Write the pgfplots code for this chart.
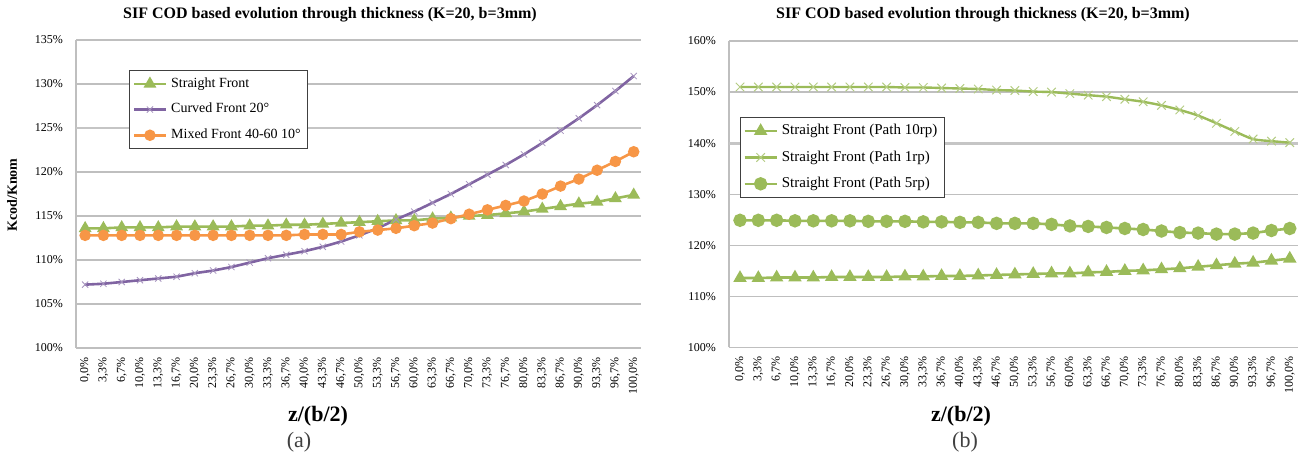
\documentclass[border=0pt]{standalone}
\usepackage{pgfplots}
\pgfplotsset{compat=1.18}
\usepackage{pgfplotstable}
\usepackage{fontspec}
\setmainfont{Liberation Serif}
\definecolor{xlgreen}{HTML}{9BBB59}
\definecolor{xlpurple}{HTML}{8064A2}
\definecolor{xlorange}{HTML}{F79646}
\definecolor{gridgray}{HTML}{BFBFBF}
\definecolor{legborder}{HTML}{404040}

\pgfplotstableread{
idx sf    cf    mf    p1    p5
0   113.6 107.2 112.8 151.0 124.9
1   113.6 107.3 112.8 151.0 124.9
2   113.7 107.5 112.8 151.0 124.9
3   113.7 107.7 112.8 151.0 124.8
4   113.7 107.9 112.8 151.0 124.8
5   113.8 108.1 112.8 151.0 124.8
6   113.8 108.5 112.8 151.0 124.8
7   113.8 108.8 112.8 151.0 124.7
8   113.8 109.2 112.8 151.0 124.7
9   113.9 109.7 112.8 150.9 124.7
10  113.9 110.2 112.8 150.9 124.6
11  114.0 110.6 112.8 150.8 124.6
12  114.0 111.0 112.9 150.7 124.5
13  114.1 111.5 112.9 150.6 124.5
14  114.2 112.1 112.9 150.4 124.3
15  114.3 112.8 113.2 150.3 124.3
16  114.4 113.6 113.4 150.1 124.3
17  114.5 114.6 113.6 150.0 124.1
18  114.5 115.5 113.9 149.7 123.8
19  114.7 116.5 114.2 149.4 123.7
20  114.8 117.5 114.7 149.1 123.5
21  115.0 118.6 115.2 148.6 123.3
22  115.1 119.7 115.7 148.1 123.1
23  115.3 120.8 116.2 147.4 122.8
24  115.5 122.0 116.7 146.5 122.5
25  115.8 123.3 117.5 145.4 122.4
26  116.1 124.7 118.4 143.9 122.2
27  116.4 126.1 119.2 142.3 122.2
28  116.6 127.6 120.2 140.8 122.4
29  117.0 129.2 121.2 140.4 122.9
30  117.4 130.9 122.3 140.1 123.3
}\datatable

\pgfplotsset{
  xlbase/.style={
    scale only axis,
    anchor=south west,
    xmin=-0.5, xmax=30.4,
    xtick={0,...,30},
    xticklabels={{0,0\%},{3,3\%},{6,7\%},{10,0\%},{13,3\%},{16,7\%},{20,0\%},{23,3\%},{26,7\%},{30,0\%},{33,3\%},{36,7\%},{40,0\%},{43,3\%},{46,7\%},{50,0\%},{53,3\%},{56,7\%},{60,0\%},{63,3\%},{66,7\%},{70,0\%},{73,3\%},{76,7\%},{80,0\%},{83,3\%},{86,7\%},{90,0\%},{93,3\%},{96,7\%},{100,0\%}},
    xticklabel style={rotate=90, anchor=east, font=\fontsize{6}{7}\selectfont, xshift=-1pt},
    yticklabel style={font=\fontsize{6}{7}\selectfont, xshift=-3pt},
    major tick length=0pt,
    axis x line*=bottom,
    axis y line*=left,
    axis line style={gridgray, line width=0.8pt},
    ymajorgrids,
    grid style={gridgray, line width=0.7pt},
    legend cell align=left,
    legend style={draw=legborder, line width=0.6pt, fill=white,
      font=\fontsize{7}{8}\selectfont, inner sep=1.5pt, row sep=2.5pt,
      legend image code/.code={%
        \draw[mark repeat=2,mark phase=2,##1] plot coordinates {(0cm,0cm) (0.28cm,0cm) (0.56cm,0cm)};}},
  },
}

\begin{document}
\begin{tikzpicture}
\useasboundingbox (0,0) rectangle (650pt,229.5pt);

% ---------- Left chart (a)
\begin{axis}[xlbase,
  at={(38pt,55.5pt)},
  width=282.5pt, height=154pt,
  ymin=100, ymax=135,
  ytick={100,105,110,115,120,125,130,135},
  yticklabels={100\%,105\%,110\%,115\%,120\%,125\%,130\%,135\%},
  legend style={at={(0.094,0.903)}, anchor=north west},
]
\draw[gridgray!90, line width=1.3pt] (axis cs:-0.5,125) -- (axis cs:30.4,125);
\addplot[xlgreen, line width=1.3pt, mark=triangle*, mark size=2.4pt, mark options={solid}]
  table[x=idx,y=sf]{\datatable};
\addlegendentry{Straight Front}
\addplot[xlpurple, line width=1.3pt, mark=x, mark size=2.2pt, mark options={line width=0.4pt, xlpurple!70}]
  table[x=idx,y=cf]{\datatable};
\addlegendentry{Curved Front 20°}
\addplot[xlorange, line width=1.3pt, mark=*, mark size=2.2pt]
  table[x=idx,y=mf]{\datatable};
\addlegendentry{Mixed Front 40-60 10°}
\end{axis}

% ---------- Right chart (b)
\begin{axis}[xlbase,
  at={(364.5pt,55.75pt)},
  width=284.5pt, height=153.25pt,
  xmin=-0.6, xmax=30.45,
  ymin=100, ymax=160,
  ytick={100,110,120,130,140,150,160},
  yticklabels={100\%,110\%,120\%,130\%,140\%,150\%,160\%},
  legend style={at={(0.019,0.753)}, anchor=north west, font=\fontsize{7.5}{8.5}\selectfont},
]
\draw[gridgray!90, line width=1.4pt] (axis cs:-0.6,140) -- (axis cs:30.45,140);
\addplot[xlgreen, line width=1.3pt, mark=triangle*, mark size=2.6pt]
  table[x=idx,y=sf]{\datatable};
\addlegendentry{Straight Front (Path 10rp)}
\addplot[xlgreen, line width=1.2pt, smooth, mark=x, mark size=3pt, mark options={line width=0.5pt, xlgreen!75}]
  table[x=idx,y=p1]{\datatable};
\addlegendentry{Straight Front (Path 1rp)}
\addplot[xlgreen, line width=1.3pt, mark=*, mark size=2.7pt]
  table[x=idx,y=p5]{\datatable};
\addlegendentry{Straight Front (Path 5rp)}
\end{axis}

% ---------- Titles and labels
\node[font=\fontsize{8}{9}\selectfont\bfseries] at (165pt,222pt) {SIF COD based evolution through thickness (K=20, b=3mm)};
\node[font=\fontsize{8}{9}\selectfont\bfseries] at (491.5pt,222pt) {SIF COD based evolution through thickness (K=20, b=3mm)};
\node[font=\fontsize{7}{8}\selectfont\bfseries, rotate=90] at (6pt,132pt) {Kcod/Knom};
\node[font=\fontsize{11}{12}\selectfont\bfseries] at (159pt,21.5pt) {z/(b/2)};
\node[font=\fontsize{11}{12}\selectfont\bfseries] at (480.5pt,21.5pt) {z/(b/2)};
\node[font=\fontsize{11}{12}\selectfont, text=black!75] at (149.5pt,8.5pt) {(a)};
\node[font=\fontsize{11}{12}\selectfont, text=black!75] at (482.5pt,8.5pt) {(b)};
\end{tikzpicture}
\end{document}
